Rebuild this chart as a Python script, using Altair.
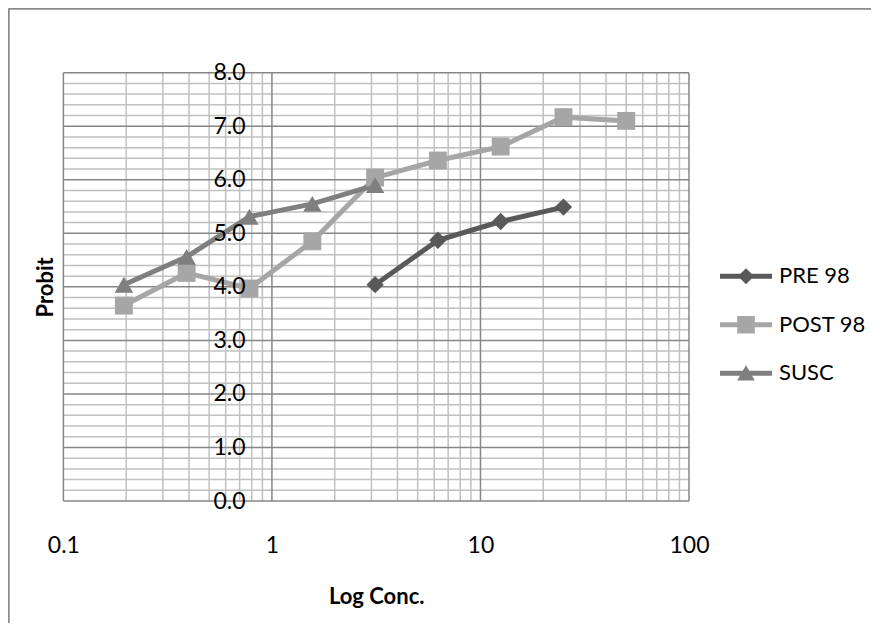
import altair as alt
import pandas as pd

# ---- data ----
series_names = ["PRE 98", "POST 98", "SUSC"]
pre_x = [3.125, 6.25, 12.5, 25]
pre_y = [4.04, 4.87, 5.22, 5.49]
post_x = [0.195, 0.39, 0.78, 1.5625, 3.125, 6.25, 12.5, 25, 50]
post_y = [3.65, 4.26, 3.97, 4.85, 6.04, 6.36, 6.62, 7.17, 7.10]
susc_x = [0.195, 0.39, 0.78, 1.5625, 3.125]
susc_y = [4.04, 4.56, 5.31, 5.55, 5.90]

colors = ["#595959", "#a6a6a6", "#7f7f7f"]
shapes = ["diamond", "square", "triangle-up"]
marker_sizes = [300, 340, 320]
legend_paths = [
    "M-3.25,-0.31H3.25V0.31H-3.25Z M0,-1L1,0L0,1L-1,0Z",
    "M-3.25,-0.31H3.25V0.31H-3.25Z M-1.1,-1.1H1.1V1.1H-1.1Z",
    "M-3.25,-0.31H3.25V0.31H-3.25Z M0,-1L1.1,0.9L-1.1,0.9Z",
]

x_major = [0.1, 1, 10, 100]
x_minor = [0.2, 0.3, 0.4, 0.5, 0.6, 0.7, 0.8, 0.9,
           2, 3, 4, 5, 6, 7, 8, 9,
           20, 30, 40, 50, 60, 70, 80, 90]
y_major = [0, 1, 2, 3, 4, 5, 6, 7, 8]
y_minor = [0.2, 0.4, 0.6, 0.8, 1.2, 1.4, 1.6, 1.8, 2.2, 2.4, 2.6, 2.8,
           3.2, 3.4, 3.6, 3.8, 4.2, 4.4, 4.6, 4.8, 5.2, 5.4, 5.6, 5.8,
           6.2, 6.4, 6.6, 6.8, 7.2, 7.4, 7.6, 7.8]

rows = []
for name, xs, ys in [("PRE 98", pre_x, pre_y), ("POST 98", post_x, post_y), ("SUSC", susc_x, susc_y)]:
    for xv, yv in zip(xs, ys):
        rows.append({"series": name, "conc": xv, "probit": yv})
df = pd.DataFrame(rows)

# ---- layout ----
W, H = 625.6, 428.3
PAD_L, PAD_T, PAD_R, PAD_B = 55.4, 64.7, 182, 122
FONT = "Lato"

xscale = alt.Scale(type="log", domain=[0.1, 100], nice=False)
yscale = alt.Scale(domain=[0, 8], nice=False, zero=False)

x_axis = alt.Axis(values=x_major, format="~g", grid=False, domain=False, ticks=False,
                  tickSize=0, labelPadding=51, labelBaseline="alphabetic",
                  labelFontSize=23, labelFont=FONT, labelColor="black",
                  labelFlush=False, labelOverlap=False, zindex=1,
                  title="Log Conc.", titleFont=FONT, titleFontSize=22, titleFontWeight="bold",
                  titleColor="black", titleX=W / 2, titleY=102, titleBaseline="alphabetic",
                  titleAlign="center")
y_axis = alt.Axis(values=y_major, format=".1f", grid=False, domain=False, ticks=False,
                  tickSize=0, offset=-208.2, labelPadding=26.6,
                  labelFontSize=23, labelFont=FONT, labelColor="black",
                  labelFlush=False, labelOverlap=False, zindex=1,
                  title="Probit", titleFont=FONT, titleFontSize=22, titleFontWeight="bold",
                  titleColor="black", titleAngle=270, titleX=-226.6, titleY=H / 2,
                  titleAlign="center", titleBaseline="middle")

X = alt.X("conc:Q", scale=xscale, axis=x_axis)
Y = alt.Y("probit:Q", scale=yscale, axis=y_axis)

minor_v = alt.Chart(pd.DataFrame({"conc": x_minor})).mark_rule(
    color="#c0c0c0", strokeWidth=1.5).encode(x=X)
minor_h = alt.Chart(pd.DataFrame({"probit": y_minor})).mark_rule(
    color="#c0c0c0", strokeWidth=1.5).encode(y=Y)
major_v = alt.Chart(pd.DataFrame({"conc": x_major})).mark_rule(
    color="#868686", strokeWidth=1.5).encode(x=X)
major_h = alt.Chart(pd.DataFrame({"probit": y_major})).mark_rule(
    color="#868686", strokeWidth=1.5).encode(y=Y)

border_v = alt.Chart(pd.DataFrame({"a": [0]})).mark_rule(color="#8a8a8a", strokeWidth=1.8).encode(
    x=alt.value(-54.6), y=alt.value(-PAD_T + 0.5), y2=alt.value(H + PAD_B))
border_h = alt.Chart(pd.DataFrame({"a": [0]})).mark_rule(color="#8a8a8a", strokeWidth=1.8).encode(
    y=alt.value(-63.9), x=alt.value(-PAD_L + 0.5), x2=alt.value(W + PAD_R))

color_scale = alt.Scale(domain=series_names, range=colors)

lines = alt.Chart(df).mark_line(strokeWidth=5).encode(
    x=X, y=Y, color=alt.Color("series:N", scale=color_scale, legend=None))
points = alt.Chart(df).mark_point(filled=True, opacity=1).encode(
    x=X, y=Y,
    color=alt.Color("series:N", scale=color_scale, legend=None),
    shape=alt.Shape("series:N", scale=alt.Scale(domain=series_names, range=shapes), legend=None),
    size=alt.Size("series:N", scale=alt.Scale(domain=series_names, range=marker_sizes), legend=None),
)

leg = alt.Legend(orient="none", legendX=671.6, legendY=192.5, title=None,
                 labelFont=FONT, labelFontSize=22, labelColor="black",
                 symbolSize=256, symbolStrokeWidth=0, symbolOpacity=1,
                 labelOffset=22, rowPadding=26.5, padding=0)
legend_layer = alt.Chart(df).mark_point(filled=True, opacity=0).encode(
    x=X, y=Y,
    color=alt.Color("series:N", scale=color_scale, legend=leg),
    shape=alt.Shape("series:N", scale=alt.Scale(domain=series_names, range=legend_paths), legend=leg),
)

chart = alt.layer(
    border_v, border_h, minor_v, minor_h, major_v, major_h, lines, points, legend_layer
).resolve_scale(
    shape="independent", color="independent", size="independent"
).properties(
    width=W, height=H,
    autosize=alt.AutoSizeParams(type="none"),
    padding={"left": PAD_L, "top": PAD_T, "right": PAD_R, "bottom": PAD_B},
).configure_view(stroke=None)

chart.save("out.html", embed_options={"renderer": "svg", "actions": False})
